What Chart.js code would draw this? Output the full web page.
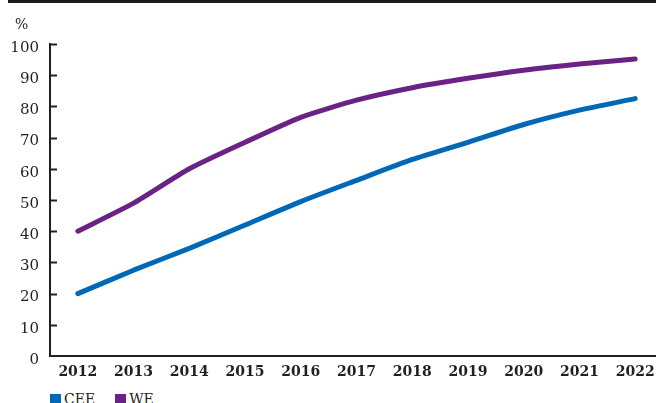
<!DOCTYPE html>
<html>
<head>
<meta charset="utf-8">
<script src="https://cdn.jsdelivr.net/npm/chart.js@4"></script>
<style>
  html, body { margin: 0; padding: 0; background: #fff; overflow: hidden; width: 656px; height: 403px; }
  #wrap { position: relative; width: 663px; height: 384px; }
  #leyenda { position: absolute; left: 50px; top: 391px; font: 14px "DejaVu Serif"; color: #231f20; white-space: nowrap; }
  #leyenda span.item { display: inline-block; margin-right: 20px; }
  #leyenda span.caja { display: inline-block; width: 11px; height: 11px; margin-right: 3px; vertical-align: -1px; }
</style>
</head>
<body>
<div id="wrap"><canvas id="grafico"></canvas></div>
<div id="leyenda"></div>
<script>
// valores
const anios = ['2012', '2013', '2014', '2015', '2016', '2017', '2018', '2019', '2020', '2021', '2022'];
const valoresCEE = [20, 27.5, 34.5, 42, 49.5, 56.3, 63, 68.5, 74.2, 78.8, 82.5];
const valoresWE = [40, 49, 60, 68.5, 76.5, 82, 86, 89, 91.6, 93.6, 95.2];
const ticksY = [0, 10, 20, 30, 40, 50, 60, 70, 80, 90, 100];

const colorCEE = '#0068b5';
const colorWE = '#6a2384';
const colorTexto = '#231f20';

// marcas del eje y hacia dentro, barra superior y el simbolo %
const extras = {
    id: 'extras',
    beforeDraw(chart) {
        const ctx = chart.ctx;
        ctx.save();
        ctx.fillStyle = '#1a1a1a';
        ctx.fillRect(8, 0, 660, 3);
        ctx.restore();
    },
    afterDraw(chart) {
        const ctx = chart.ctx;
        const y = chart.scales.y;
        ctx.save();
        ctx.strokeStyle = colorTexto;
        ctx.lineWidth = 2;
        ticksY.forEach(v => {
            if (v === 0) return;
            const py = Math.round(y.getPixelForValue(v)) + 0.5;
            ctx.beginPath();
            ctx.moveTo(chart.chartArea.left, py);
            ctx.lineTo(chart.chartArea.left + 7, py);
            ctx.stroke();
        });
        ctx.fillStyle = colorTexto;
        ctx.font = '14px "DejaVu Serif"';
        ctx.textAlign = 'left';
        ctx.textBaseline = 'middle';
        ctx.fillText('%', 15, 25);
        ctx.restore();
    }
};

const ctx = document.getElementById('grafico').getContext('2d');
const grafico = new Chart(ctx, {
    type: 'line',
    data: {
        labels: anios,
        datasets: [{
            label: 'CEE',
            data: valoresCEE,
            borderColor: colorCEE,
            backgroundColor: colorCEE,
            borderWidth: 5,
            borderCapStyle: 'round',
            borderJoinStyle: 'round',
            pointRadius: 0,
            tension: 0.2
        }, {
            label: 'WE',
            data: valoresWE,
            borderColor: colorWE,
            backgroundColor: colorWE,
            borderWidth: 5,
            borderCapStyle: 'round',
            borderJoinStyle: 'round',
            pointRadius: 0,
            tension: 0.2
        }]
    },
    options: {
        responsive: true,
        maintainAspectRatio: false,
        animation: false,
        layout: { padding: { top: 44, left: 0, right: 0, bottom: 0 } },
        plugins: {
            tooltip: { enabled: false },
            legend: { display: false }
        },
        scales: {
            x: {
                offset: true,
                afterFit(scale) { scale.height = 28; },
                grid: { display: false, drawTicks: false },
                border: { display: true, color: colorTexto, width: 2 },
                ticks: {
                    color: colorTexto,
                    padding: 8,
                    maxRotation: 0,
                    font: { family: 'DejaVu Serif', size: 14, weight: 'bold' }
                }
            },
            y: {
                min: 0,
                max: 100,
                afterFit(scale) { scale.width = 50; },
                grid: { display: false, drawTicks: false },
                border: { display: true, color: colorTexto, width: 2 },
                ticks: {
                    stepSize: 10,
                    color: colorTexto,
                    padding: 11,
                    labelOffset: 4,
                    font: { family: 'DejaVu Serif', size: 15 }
                }
            }
        }
    },
    plugins: [extras]
});

// leyenda en html a partir de los datasets
const leyenda = document.getElementById('leyenda');
grafico.data.datasets.forEach(ds => {
    const item = document.createElement('span');
    item.className = 'item';
    const caja = document.createElement('span');
    caja.className = 'caja';
    caja.style.background = ds.borderColor;
    item.appendChild(caja);
    item.appendChild(document.createTextNode(ds.label));
    leyenda.appendChild(item);
});
</script>
</body>
</html>
